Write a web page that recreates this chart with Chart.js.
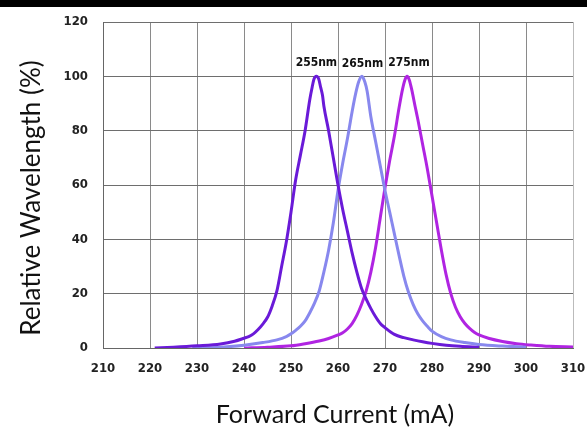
<!DOCTYPE html>
<html>
<head>
<meta charset="utf-8">
<script src="https://cdn.jsdelivr.net/npm/chart.js@4.4.1/dist/chart.umd.min.js"></script>
<style>
  html, body { margin: 0; padding: 0; background: #fff; }
  #wrap { width: 587px; height: 428px; position: relative; }
</style>
</head>
<body>
<div id="wrap"><canvas id="chart" width="587" height="428"></canvas></div>
<script>
// x ticks / y ticks
const xTicks = [210, 220, 230, 240, 250, 260, 270, 280, 290, 300, 310];
const yTicks = [0, 20, 40, 60, 80, 100, 120];

// 255nm curve
const x255 = [221, 225, 230, 235, 238, 240, 241, 242, 243, 244, 245, 246, 247, 248, 249, 250, 251, 252, 253, 254, 254.5, 254.9, 255.4, 255.9, 256.3, 256.7, 257, 258, 259, 260, 261, 262, 263, 264, 265, 266, 267, 268, 269, 270, 272, 274, 276, 278, 280, 283, 286, 290];
const y255 = [0, 0.3, 0.8, 1.5, 2.5, 3.6, 4.2, 5.2, 6.8, 8.8, 11.3, 15.5, 21, 30, 39, 50, 62, 71, 80, 91.5, 96, 99, 100, 99, 96, 93, 89, 80, 70, 60, 51, 43, 35, 28, 22, 18, 14.5, 11.5, 9, 7.5, 5, 3.8, 3, 2.3, 1.7, 1.0, 0.6, 0.3];

// 265nm curve
const x265 = [229, 235, 240, 244, 247, 249, 250, 251, 252, 253, 254, 255, 256, 257, 258, 259, 260, 261, 262, 263, 263.8, 264.4, 265.1, 265.7, 266.2, 267, 268, 269, 270, 271, 272, 273, 274, 275, 276, 277, 278, 279, 280, 282, 284, 287, 290, 295, 300];
const y265 = [0, 0.3, 1, 2, 3, 4.2, 5.2, 6.5, 8, 10, 13, 16.5, 21, 28, 36, 46, 58, 68, 77, 87, 94, 98, 100, 98, 94.5, 85, 76, 67, 58, 50, 42, 34, 26.5, 20.5, 16, 12.5, 10, 8, 6.2, 4.2, 3, 2, 1.3, 0.7, 0.3];

// 275nm curve
const x275 = [240, 245, 250, 253, 256, 258, 260, 261, 262, 263, 264, 265, 266, 267, 268, 269, 270, 271, 272, 273, 273.7, 274.2, 274.7, 275.2, 275.7, 276.4, 277, 278, 279, 280, 281, 282, 283, 284, 285, 286, 287, 288, 289, 290, 292, 295, 298, 301, 305, 310];
const y275 = [0, 0.3, 0.8, 1.6, 2.6, 3.5, 4.8, 5.6, 7, 9, 12, 16, 21, 28, 37, 48, 59, 69, 78, 88.5, 95, 98.5, 100, 98.5, 95, 89, 84, 75, 66, 56, 46, 36, 27, 20, 15, 11.5, 9, 7.2, 5.8, 4.8, 3.6, 2.4, 1.6, 1.1, 0.6, 0.4];

// peak labels
const peakLabels = ['255nm', '265nm', '275nm'];
const peakX = [255.4, 265.2, 275.1];
const peakY = [105, 104.5, 105];

const xTitle = 'Forward Current (mA)';
const yTitle = 'Relative Wavelength (%)';

function pts(xs, ys) {
  return xs.map((x, i) => ({ x: x, y: ys[i] }));
}

const decor = {
  id: 'decor',
  beforeDraw(chart) {
    const ctx = chart.ctx;
    ctx.save();
    ctx.fillStyle = '#000';
    ctx.fillRect(0, 0, chart.width, 7);
    ctx.restore();
  },
  afterDraw(chart) {
    const ctx = chart.ctx;
    const xs = chart.scales.x, ys = chart.scales.y;
    ctx.save();
    // peak labels
    ctx.fillStyle = '#111';
    ctx.font = 'bold 12px "Liberation Sans Narrow", "DejaVu Sans Condensed", sans-serif';
    ctx.textAlign = 'center';
    ctx.textBaseline = 'middle';
    peakLabels.forEach((t, i) => {
      ctx.fillText(t, xs.getPixelForValue(peakX[i]), ys.getPixelForValue(peakY[i]));
    });
    // axis titles
    ctx.fillStyle = '#111';
    ctx.font = '25px Lato, "Open Sans", sans-serif';
    ctx.textBaseline = 'alphabetic';
    ctx.fillText(xTitle, 335, 423);
    ctx.font = '26px Lato, "Open Sans", sans-serif';
    ctx.translate(40, 198);
    ctx.rotate(-Math.PI / 2);
    ctx.fillText(yTitle, 0, 0);
    ctx.restore();
  }
};

function line(label, data, color) {
  return {
    label: label,
    data: data,
    borderColor: color,
    borderWidth: 3,
    pointRadius: 0,
    fill: false,
    cubicInterpolationMode: 'monotone'
  };
}

new Chart(document.getElementById('chart'), {
  type: 'line',
  data: {
    datasets: [
      line('255nm', pts(x255, y255), '#6a1ad8'),
      line('265nm', pts(x265, y265), '#8888ee'),
      line('275nm', pts(x275, y275), '#b024e2')
    ]
  },
  options: {
    responsive: false,
    animation: false,
    devicePixelRatio: 1,
    layout: { padding: { top: 22, right: 14, left: 0, bottom: 0 } },
    plugins: { legend: { display: false }, tooltip: { enabled: false } },
    scales: {
      x: {
        type: 'linear',
        min: xTicks[0],
        max: xTicks[xTicks.length - 1],
        afterBuildTicks(s) { s.ticks = xTicks.map(v => ({ value: v })); },
        afterFit(s) {
          s.height = 80;
          s.paddingLeft = 0;
          s.paddingRight = 0;
        },
        grid: {
          color: ctx => ctx.index === xTicks.length - 1 ? '#bbbbbb' : '#8a8a8a',
          lineWidth: 1,
          drawTicks: false
        },
        border: { color: '#666', width: 1 },
        ticks: {
          padding: 13,
          color: '#222',
          font: { family: '"Liberation Sans Narrow", "DejaVu Sans Condensed", sans-serif', size: 13, weight: 'bold' }
        }
      },
      y: {
        min: yTicks[0],
        max: yTicks[yTicks.length - 1],
        afterBuildTicks(s) { s.ticks = yTicks.map(v => ({ value: v })); },
        afterFit(s) {
          s.width = 103;
          s.paddingTop = 0;
          s.paddingBottom = 0;
        },
        grid: { color: '#6e6e6e', lineWidth: 1, drawTicks: false },
        border: { color: '#666', width: 1 },
        ticks: {
          padding: 15,
          color: '#222',
          font: { family: '"Liberation Sans Narrow", "DejaVu Sans Condensed", sans-serif', size: 13, weight: 'bold' }
        }
      }
    }
  },
  plugins: [decor]
});
</script>
</body>
</html>
